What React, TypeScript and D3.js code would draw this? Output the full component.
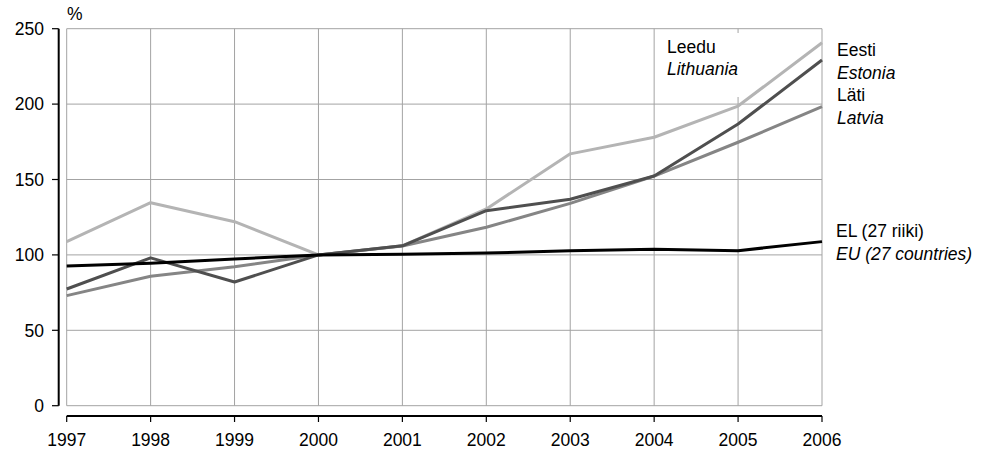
import React from "react";
import * as d3 from "d3";

const years = [1997, 1998, 1999, 2000, 2001, 2002, 2003, 2004, 2005, 2006];
const lithuania = [108.8, 134.6, 122, 100, 106, 130.5, 167, 178, 198.7, 240.7];
const estonia = [77.4, 98, 82, 100, 106, 129.3, 136.9, 152.3, 186.8, 229.2];
const latvia = [73, 85.8, 92.2, 100, 105.9, 118.3, 134.2, 152.3, 174.7, 198.3];
const eu = [92.6, 94.5, 97.3, 100, 100.5, 101.2, 102.7, 103.7, 102.8, 108.8];
const yTicks = [0, 50, 100, 150, 200, 250];

const series = [
  { name: "Lithuania", values: lithuania, color: "#b4b4b4" },
  { name: "Latvia", values: latvia, color: "#858585" },
  { name: "Estonia", values: estonia, color: "#4f4f4f" },
  { name: "EU", values: eu, color: "#000000" },
];

const font = "'Liberation Sans', Arial, sans-serif";

export default function App() {
  const x = d3.scaleLinear().domain([1997, 2006]).range([66.7, 822]);
  const y = d3.scaleLinear().domain([0, 250]).range([405.7, 28.7]);
  const line = d3
    .line<number>()
    .x((_, i) => x(years[i]))
    .y((d) => y(d));
  const txt = { fontFamily: font, fontSize: 17.5, fill: "#000" } as const;

  return (
    <svg
      width={985}
      height={450}
      style={{ position: "absolute", left: 0, top: 0, background: "#fff" }}
    >
      <rect width={985} height={450} fill="#fff" />
      {yTicks.map((t) => (
        <line key={"h" + t} x1={x(1997)} x2={x(2006)} y1={y(t)} y2={y(t)} stroke="#a3a3a3" strokeWidth={1} />
      ))}
      {years.map((yr) => (
        <line key={"v" + yr} x1={x(yr)} x2={x(yr)} y1={y(250)} y2={y(0)} stroke="#a3a3a3" strokeWidth={1} />
      ))}
      <rect x={657} y={33} width={88} height={64} fill="#fff" />
      {series.map((s) => (
        <path
          key={s.name}
          d={line(s.values) || ""}
          fill="none"
          stroke={s.color}
          strokeWidth={3}
          strokeLinejoin="round"
        />
      ))}
      <line x1={58.7} x2={58.7} y1={y(250)} y2={y(0)} stroke="#000" strokeWidth={2} />
      {yTicks.map((t) => (
        <g key={"yt" + t}>
          <line x1={52} x2={58.7} y1={y(t)} y2={y(t)} stroke="#000" strokeWidth={1.2} />
          <text x={44} y={y(t)} dy="0.36em" textAnchor="end" {...txt}>
            {t}
          </text>
        </g>
      ))}
      <text x={67} y={20} {...txt}>%</text>
      <line x1={x(1997)} x2={x(2006)} y1={416} y2={416} stroke="#000" strokeWidth={2} />
      {years.map((yr) => (
        <g key={"xt" + yr}>
          <line x1={x(yr)} x2={x(yr)} y1={416} y2={422} stroke="#000" strokeWidth={1.2} />
          <text x={x(yr)} y={446} textAnchor="middle" {...txt}>
            {yr}
          </text>
        </g>
      ))}
      <text x={667} y={53} {...txt}>Leedu</text>
      <text x={667} y={75} {...txt} fontStyle="italic">Lithuania</text>
      <text x={837} y={56} {...txt}>Eesti</text>
      <text x={837} y={79} {...txt} fontStyle="italic">Estonia</text>
      <text x={837} y={101} {...txt}>Läti</text>
      <text x={837} y={124} {...txt} fontStyle="italic">Latvia</text>
      <text x={836} y={237} {...txt}>EL (27 riiki)</text>
      <text x={836} y={260} {...txt} fontStyle="italic">EU (27 countries)</text>
    </svg>
  );
}
